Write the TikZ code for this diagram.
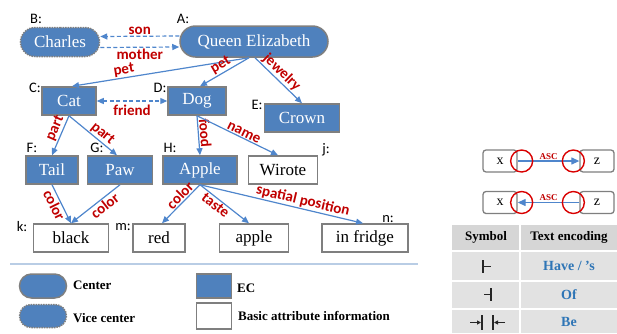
\documentclass[tikz,border=0pt]{standalone}
\usepackage{fontspec}
\setmainfont{Liberation Serif}
\newfontfamily\calibri{Carlito}
\usetikzlibrary{arrows.meta,shapes.misc}

\definecolor{ecblue}{HTML}{4F81BD}
\definecolor{edgeblue}{HTML}{4F86CC}
\definecolor{lblred}{HTML}{C00000}
\definecolor{boxgray}{HTML}{7F7F7F}
\definecolor{sepblue}{HTML}{B9CDE5}
\definecolor{headgray}{HTML}{D6D6D6}
\definecolor{rowgray}{HTML}{E2E2E2}
\definecolor{encblue}{HTML}{2E75B6}

\newcommand\nodefnt{\fontsize{17}{17}\selectfont}
\newcommand\lblfnt{\calibri\bfseries\fontsize{15}{15}\selectfont}
\newcommand\tagfnt{\calibri\fontsize{14.5}{14.5}\selectfont}
\newcommand\legfnt{\bfseries\fontsize{13}{13}\selectfont}

\tikzset{
	centerbox/.style={rounded rectangle, draw=boxgray, line width=1.5pt, fill=ecblue, text=white, font=\nodefnt, minimum height=31pt, inner sep=0pt},
	vicebox/.style={centerbox, densely dotted, minimum height=29pt},
	ecbox/.style={rectangle, draw=boxgray, line width=1.5pt, fill=ecblue, text=white, font=\nodefnt, minimum height=28pt, inner sep=0pt},
	attrbox/.style={ecbox, fill=white, text=black},
	tag/.style={font=\tagfnt, inner sep=0pt},
	lbl/.style={font=\lblfnt, text=lblred, inner sep=1pt},
	rel/.style={draw=edgeblue, line width=1.2pt, -{Triangle[length=7pt,width=6pt]}},
	reldash/.style={rel, dash pattern=on 4pt off 2.5pt},
	legtext/.style={font=\legfnt, anchor=west, inner sep=0pt},
	xzbox/.style={draw=boxgray, line width=1.3pt, rounded corners=3pt, fill=white, minimum width=34pt, minimum height=22pt, inner sep=0pt, font=\fontsize{14}{14}\selectfont},
	ring/.style={draw=red!85!black, line width=1.4pt},
	asc/.style={font=\bfseries\fontsize{9}{9}\selectfont, text=lblred, inner sep=1pt},
	thead/.style={font=\legfnt, inner sep=0pt},
	enc/.style={font=\bfseries\fontsize{14}{14}\selectfont, text=encblue, inner sep=0pt},
	sym/.style={line width=1.8pt, black!85}
}

\begin{document}
\begin{tikzpicture}[x=1pt,y=-1pt]
		%%%%% START %%%%%
		\useasboundingbox (0,0) rectangle (617,333);
		
		\node[centerbox, minimum width=148pt] (queen) at (254,41.5) {Queen Elizabeth};
		\node[vicebox, minimum width=79pt] (charles) at (60,42) {Charles};
		\node[tag] (tagA) at (183,19) {A:};
		\node[tag] (tagB) at (36,19) {B:};
		
		\node[ecbox, minimum width=54pt] (cat) at (69,101) {Cat};
		\node[ecbox, minimum width=58pt] (dog) at (197,101) {Dog};
		\node[ecbox, minimum width=75pt] (crown) at (302,118) {Crown};
		\node[tag] (tagC) at (35,88) {C:};
		\node[tag] (tagD) at (160,88) {D:};
		\node[tag] (tagE) at (257,105) {E:};
		
		\node[ecbox, minimum width=52pt] (tail) at (52,170) {Tail};
		\node[ecbox, minimum width=65pt] (paw) at (120,170) {Paw};
		\node[ecbox, minimum width=74pt] (apple) at (200,170) {Apple};
		\node[attrbox, minimum width=69pt] (wirote) at (283,170) {Wirote};
		\node[tag] (tagF) at (32,148) {F:};
		\node[tag] (tagG) at (97,148) {G:};
		\node[tag] (tagH) at (170,148) {H:};
		\node[tag] (tagj) at (326,150) {j:};
		
		\node[attrbox, minimum width=75pt] (black) at (71,238) {black};
		\node[attrbox, minimum width=52pt] (red) at (159,238) {red};
		\node[attrbox, minimum width=69pt] (appleval) at (254,238) {apple};
		\node[attrbox, minimum width=86pt] (fridge) at (365,238) {in fridge};
		\node[tag] (tagk) at (22,227) {k:};
		\node[tag] (tagm) at (123,227) {m:};
		\node[tag] (tagn) at (388,219) {n:};
		
		% relations
		\draw[reldash] ([yshift=5.5pt]queen.west) -- ([yshift=5.5pt]charles.east) node[lbl, midway, above] {son};
		\draw[reldash] ([yshift=-5.5pt]charles.east) -- ([yshift=-5.5pt]queen.west) node[lbl, midway, below] {mother};
		\draw[rel] ([xshift=-5pt]queen.south) -- ([xshift=3pt]cat.north) node[lbl, sloped, pos=.7, above] {pet};
		\draw[rel] ([xshift=-5pt]queen.south) -- ([xshift=3pt]dog.north) node[lbl, sloped, pos=.5, above] {pet};
		\draw[rel] ([xshift=1pt]queen.south) -- (crown.north) node[lbl, sloped, pos=.45, above] {jewelry};
		\draw[reldash, {Triangle[length=7pt,width=6pt]}-{Triangle[length=7pt,width=6pt]}] (cat.east) -- (dog.west) node[lbl, midway, below=2pt] {friend};
		\draw[rel] (cat.south) -- (tail.north) node[lbl, sloped, pos=.4, above] {part};
		\draw[rel] (cat.south) -- ([xshift=-3pt]paw.north) node[lbl, sloped, pos=.6, above] {part};
		\draw[rel] (dog.south) -- (apple.north) node[lbl, sloped, pos=.45, above] {food};
		\draw[rel] (dog.south) -- ([xshift=-5pt]wirote.north) node[lbl, sloped, pos=.55, above] {name};
		\draw[rel] (tail.south) -- (black.north) node[lbl, sloped, pos=.45, below] {color};
		\draw[rel] (paw.south) -- (black.north) node[lbl, sloped, pos=.4, below] {color};
		\draw[rel] (apple.south) -- ([xshift=3pt]red.north) node[lbl, sloped, pos=.4, above] {color};
		\draw[rel] (apple.south) -- ([xshift=-5pt]appleval.north) node[lbl, sloped, pos=.4, below] {taste};
		\draw[rel] (apple.south) -- ([xshift=-2pt]fridge.north) node[lbl, sloped, pos=.62, above] {spatial position};
		
		% legend
		\draw[sepblue, line width=1.5pt] (10,264) -- (418,264);
		\node[centerbox, minimum width=47pt, minimum height=24pt] (lgcenter) at (43,286) {};
		\node[vicebox, minimum width=47pt, minimum height=23pt] (lgvice) at (43,316) {};
		\node[ecbox, minimum width=35pt, minimum height=24pt] (lgec) at (214,286) {};
		\node[attrbox, minimum width=35pt, minimum height=26pt] (lgattr) at (214,316) {};
		\node[legtext] (txcenter) at (73,285) {Center};
		\node[legtext] (txvice) at (73,318) {Vice center};
		\node[legtext] (txec) at (237,288) {EC};
		\node[legtext] (txattr) at (238,316) {Basic attribute information};
		
		% ASC links
		\node[xzbox] (x1) at (500,161) {x};
		\node[xzbox] (z1) at (597,161) {z};
		\draw[rel, -{Triangle[length=8pt,width=7pt]}] (x1.east) -- (z1.west) node[asc, midway, above] {ASC};
		\draw[ring] ([xshift=4pt]x1.east) circle (11pt);
		\draw[ring] ([xshift=-6pt]z1.west) circle (11pt);
		
		\node[xzbox] (x2) at (500,202.5) {x};
		\node[xzbox] (z2) at (597,202.5) {z};
		\draw[rel, -{Triangle[length=8pt,width=7pt]}] (z2.west) -- (x2.east) node[asc, midway, above] {ASC};
		\draw[ring] ([xshift=4pt]x2.east) circle (11pt);
		\draw[ring] ([xshift=-6pt]z2.west) circle (11pt);
		
		% table
		\fill[rowgray] (452,225) rectangle (617,333);
		\fill[headgray] (452,225) rectangle (617,250);
		\draw[white, line width=2pt] (520,225) -- (520,333);
		\draw[white, line width=2pt] (452,251) -- (617,251);
		\draw[white, line width=2pt] (452,281) -- (617,281);
		\draw[white, line width=2pt] (452,309) -- (617,309);
		\node[thead] (symhead) at (486,237.5) {Symbol};
		\node[thead] (enchead) at (569,237.5) {Text encoding};
		\node[enc] (have) at (569,266) {Have / ’s};
		\node[enc] (of) at (569,295) {Of};
		\node[enc] (be) at (569,322) {Be};
		
		\draw[sym] (483,260) -- (483,273) (483,266.5) -- (491,266.5);
		\draw[sym] (491,288) -- (491,301) (484,294.5) -- (491,294.5);
		\draw[sym] (482,315) -- (482,330) (493,315) -- (493,330);
		\draw[sym, line width=1.2pt, -{Triangle[length=4pt,width=4pt]}] (470,322.5) -- (481,322.5);
		\draw[sym, line width=1.2pt, -{Triangle[length=4pt,width=4pt]}] (505,322.5) -- (494,322.5);
		
		%%%%% END %%%%%
	\end{tikzpicture}
\end{document}
